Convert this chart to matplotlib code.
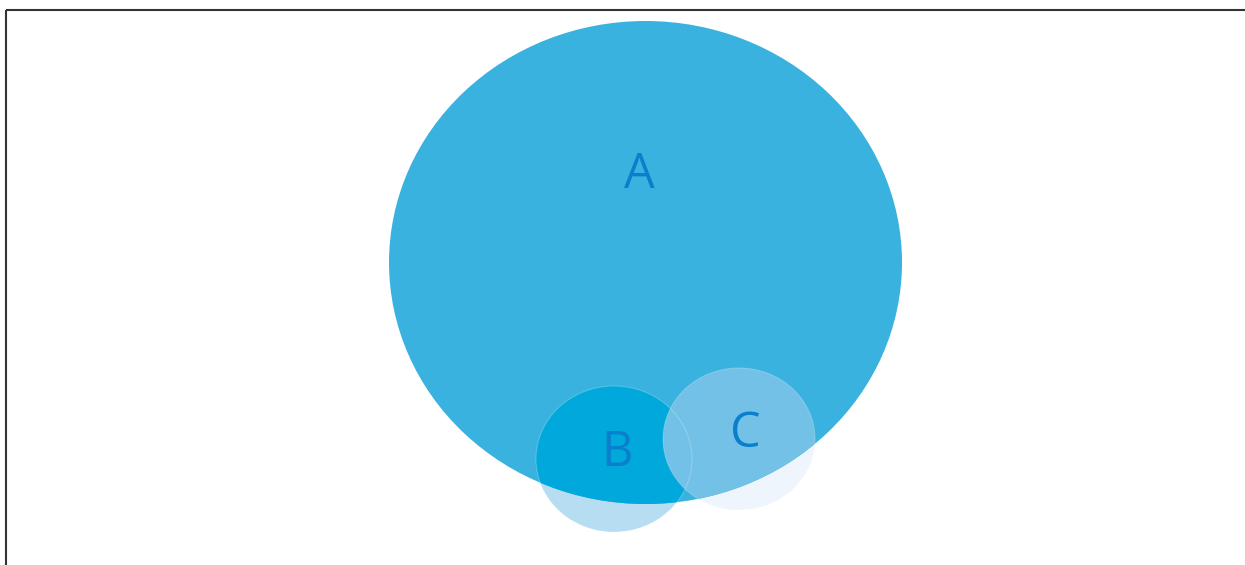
import matplotlib
matplotlib.use("Agg")
import matplotlib.pyplot as plt
from matplotlib.patches import Ellipse, Rectangle

# Data: three sets drawn as ellipses (centre x, centre y, half-width, half-height)
sets = ["A", "B", "C"]
center_x = [645.5, 614, 739]
center_y = [262.5, 459, 439]
half_w = [256.5, 78, 76]
half_h = [241.5, 73, 71]
label_x = [639.5, 617, 745]
label_y = [188, 466, 447]

col_A = "#3AB2DF"
col_B_out = "#B6DDF2"
col_B_in = "#00A8DC"
col_C_out = "#EEF5FC"
col_C_in = "#73C1E6"
text_col = "#0A7FCC"

fig = plt.figure(figsize=(12.45, 5.65), dpi=100)
ax = fig.add_axes([0, 0, 1, 1])
ax.set_xlim(0, 1245)
ax.set_ylim(565, 0)
ax.axis("off")

# frame (extends past right/bottom edge)
ax.add_patch(Rectangle((5.5, 9.5), 1300, 600, fill=False, edgecolor="#333333", linewidth=1.5, zorder=10))

def ell(i, **kw):
    return Ellipse((center_x[i], center_y[i]), 2 * half_w[i], 2 * half_h[i], **kw)

# outer parts of B and C
ax.add_patch(ell(1, facecolor=col_B_out, edgecolor="none", zorder=1))
ax.add_patch(ell(2, facecolor=col_C_out, edgecolor="none", zorder=1))
# A
pA = ell(0, facecolor=col_A, edgecolor="none", zorder=2)
ax.add_patch(pA)
# inner parts clipped to A
pB = ell(1, facecolor=col_B_in, edgecolor="none", zorder=3)
ax.add_patch(pB)
pB.set_clip_path(pA)
pC = ell(2, facecolor=col_C_in, edgecolor="none", zorder=4)
ax.add_patch(pC)
pC.set_clip_path(pA)
# faint outlines
for i in (1, 2):
    ax.add_patch(ell(i, facecolor="none", edgecolor=(1, 1, 1, 0.22), linewidth=0.8, zorder=5))

for i, s in enumerate(sets):
    ax.text(label_x[i], label_y[i], s, fontsize=35, color=text_col, ha="center", va="baseline",
            family=["Open Sans", "DejaVu Sans"], zorder=6)

fig.savefig("out.png", dpi=100)
